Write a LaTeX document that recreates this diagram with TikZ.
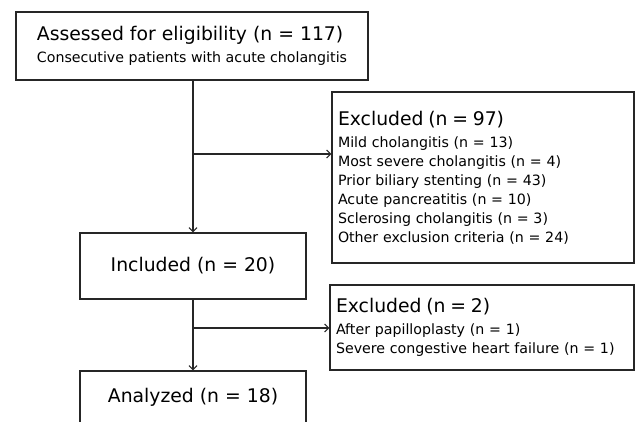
\documentclass[tikz,border=0pt]{standalone}
\usepackage{fontspec}
\setmainfont{DejaVu Sans}
\usetikzlibrary{arrows.meta}
\newcommand\fbig{\fontsize{18.8}{23}\selectfont}
\newcommand\fsmall{\fontsize{14.2}{19}\selectfont}
\begin{document}
\begin{tikzpicture}[x=1pt,y=-1pt,
  box/.style={draw=black!85, line width=1.2pt, inner ysep=0pt},
  arr/.style={draw=black!85, line width=1.1pt, -{Straight Barb[length=4pt,width=8pt]}}]
\useasboundingbox (0,0) rectangle (637,421);
\clip (0,0) rectangle (637,421);
\fill[white] (0,0) rectangle (637,421);
% boxes
\node[box, minimum width=352pt, minimum height=68pt, inner xsep=0pt, align=left, font=\fsmall] (assess) at (192,46)
  {{\fbig Assessed for eligibility (n = 117)}\\[3pt]Consecutive patients with acute cholangitis};
\node[box, minimum width=302pt, minimum height=171pt, inner xsep=6pt, text width=290pt, align=left, font=\fsmall] (exca) at (483,177.5)
  {{\fbig Excluded (n = 97)\par}\vspace{3pt}Mild cholangitis (n = 13)\par Most severe cholangitis (n = 4)\par Prior biliary stenting (n = 43)\par Acute pancreatitis (n = 10)\par Sclerosing cholangitis (n = 3)\par Other exclusion criteria (n = 24)};
\node[box, minimum width=226pt, minimum height=66pt, font=\fbig] (inc) at (193,266) {Included (n = 20)};
\node[box, minimum width=304pt, minimum height=85pt, inner xsep=6pt, text width=292pt, align=left, font=\fsmall] (excb) at (482,327.5)
  {{\fbig Excluded (n = 2)\par}\vspace{3pt}After papilloplasty (n = 1)\par Severe congestive heart failure (n = 1)};
\node[box, minimum width=226pt, minimum height=53pt, font=\fbig] (ana) at (193,397.5) {Analyzed (n = 18)};
% connectors
\coordinate (j1) at (193,154);
\coordinate (j2) at (193,328);
\draw[arr] (assess.south -| inc.north) -- (inc.north);
\draw[arr] (j1) -- (j1 -| exca.west);
\draw[arr] (inc.south) -- (ana.north);
\draw[arr] (j2) -- (j2 -| excb.west);
\end{tikzpicture}
\end{document}
